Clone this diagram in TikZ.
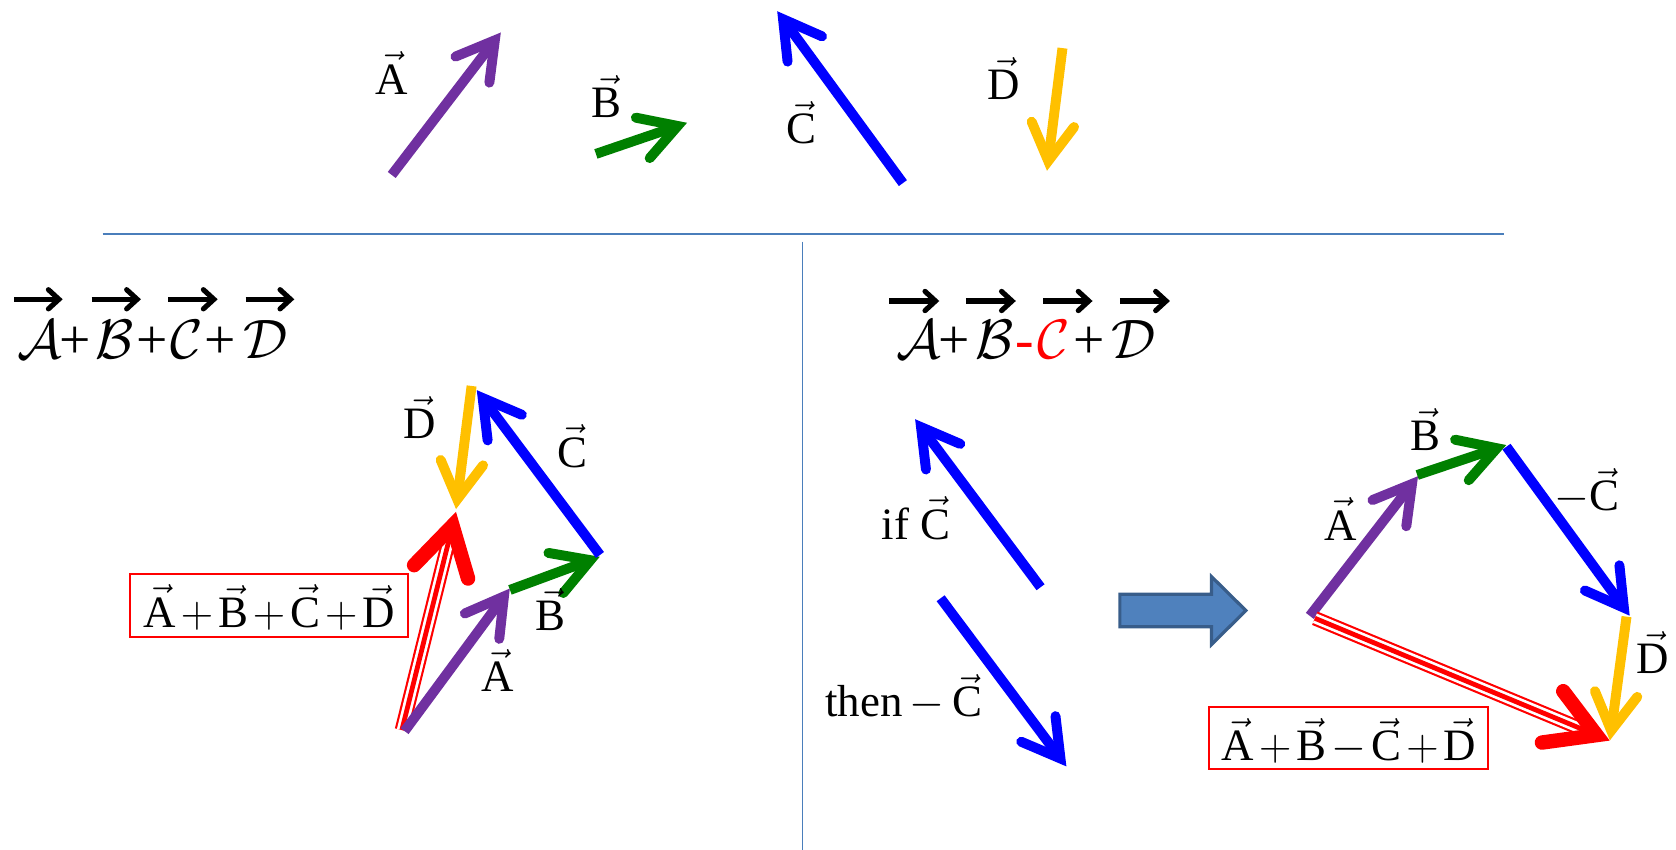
\documentclass[tikz,border=0pt]{standalone}
\usepackage{fix-cm}
\usepackage{amsmath}
\usepackage{fontspec}
\setmainfont{Liberation Serif}
\usetikzlibrary{calc}
\definecolor{vpurple}{HTML}{7030A0}
\definecolor{vgreen}{HTML}{008000}
\definecolor{vblue}{HTML}{0000FF}
\definecolor{vgold}{HTML}{FFC000}
\definecolor{vred}{HTML}{FF0000}
\definecolor{sepline}{HTML}{4A7EBB}
\definecolor{blockfill}{HTML}{4F81BD}
\definecolor{blockedge}{HTML}{385D8A}
\tikzset{
  lbl/.style={font=\fontsize{42}{50}\selectfont, inner sep=0pt, anchor=base},
  ttl/.style={font=\fontsize{52}{60}\selectfont, inner sep=0pt, anchor=base},
  sumbox/.style={draw=vred, line width=1.8pt, fill=none},
  sep/.style={draw=sepline, line width=1.5pt}
}
\newcommand\vl[1]{$\vec{\text{#1}}$}
\newcommand\opl{\mkern2mu{+}\mkern2mu}
\newcommand\omi{\mkern2mu{-}\mkern2mu}
% #1 colour, #2 tail, #3 apex, #4 width, #5 head length, #6 half width, #7 miter offset
\newcommand\drawvec[7]{%
  \coordinate (vv) at ($(#3)!#7pt!(#2)$);
  \coordinate (hb) at ($(#3)!#5pt!(#2)$);
  \draw[draw=#1, line width=#4pt, line cap=butt] (#2) -- (vv);
  \draw[draw=#1, line width=#4pt, line cap=round, line join=miter, miter limit=20]
    ($(hb)!#6pt!90:(#3)$) -- (vv) -- ($(hb)!#6pt!-90:(#3)$);
}
\newcommand\sv[3]{\drawvec{#1}{#2}{#3}{9.3}{44}{20}{9.5}}
\newcommand\tv[2]{\drawvec{black}{#1}{#2}{4.8}{14}{9}{4.2}}
\newcommand\drawres[2]{%
  \coordinate (vv) at ($(#2)!13.5pt!(#1)$);
  \coordinate (hb) at ($(#2)!58pt!(#1)$);
  \draw[vred, line width=13.5pt] (#1) -- (vv);
  \draw[white, line width=9.5pt] (#1) -- (vv);
  \draw[vred, line width=4.5pt] (#1) -- (vv);
  \draw[vred, line width=13.5pt, line cap=round, line join=miter, miter limit=20]
    ($(hb)!26pt!90:(#2)$) -- (vv) -- ($(hb)!26pt!-90:(#2)$);
}
\begin{document}
\begin{tikzpicture}[x=1pt, y=-1pt]
\useasboundingbox (0,0) rectangle (1568,795);
% separators
\coordinate (hl1) at (96,219); \coordinate (hl2) at (1407,219);
\coordinate (vl1) at (750.7,226); \coordinate (vl2) at (750.7,795);
\draw[sep] (hl1) -- (hl2);
\draw[sep] (vl1) -- (vl2);

% ---------- top row ----------
\coordinate (tA) at (366.5,163.7); \coordinate (hA) at (468.7,30.2);
\coordinate (tB) at (557.5,144);   \coordinate (hB) at (643,114.8);
\coordinate (tC) at (844.7,171.3); \coordinate (hC) at (727,10.3);
\coordinate (tD) at (994,45);      \coordinate (hD) at (979.5,160);
\sv{vpurple}{tA}{hA}
\sv{vgreen}{tB}{hB}
\sv{vblue}{tC}{hC}
\sv{vgold}{tD}{hD}
\node[lbl] (labA) at (366,88) {\vl{A}};
\node[lbl] (labB) at (567.6,110) {\vl{B}};
\node[lbl] (labC) at (750,134.7) {\vl{C}};
\node[lbl] (labD) at (938.8,92.9) {\vl{D}};

% ---------- left title ----------
\foreach \n/\a/\b in {1/13.1/59.3, 2/85.8/132.5, 3/157.5/204.3, 4/229.8/276}{
  \coordinate (lta\n) at (\a,280); \coordinate (ltb\n) at (\b,280);
  \tv{lta\n}{ltb\n}
}
\node[ttl] (lt1) at (37.4,335.2) {$\mathcal{A}$};
\node[ttl] (lp1) at (70,335.2) {+};
\node[ttl] (lt2) at (107.6,335.2) {$\mathcal{B}$};
\node[ttl] (lp2) at (141.9,335.2) {+};
\node[ttl] (lt3) at (174.6,335.2) {$\mathcal{C}$};
\node[ttl] (lp3) at (206.3,335.2) {+};
\node[ttl] (lt4) at (248.7,335.2) {$\mathcal{D}$};

% ---------- left diagram ----------
\coordinate (lO) at (378.5,684);
\coordinate (lRt) at (376,683);  \coordinate (lRh) at (426.6,478.7);
\coordinate (lAh) at (477.1,550.4);
\coordinate (lBt) at (477.1,551.9); \coordinate (lBh) at (561.3,520.8);
\coordinate (lCt) at (561.3,519.2); \coordinate (lCh) at (445.9,364.8);
\coordinate (lDt) at (441.2,361.1); \coordinate (lDh) at (426.6,476.5);
\drawres{lRt}{lRh}
\sv{vpurple}{lO}{lAh}
\sv{vgreen}{lBt}{lBh}
\sv{vblue}{lCt}{lCh}
\sv{vgold}{lDt}{lDh}
\node[lbl] (llD) at (393,410) {\vl{D}};
\node[lbl] (llC) at (535.4,437) {\vl{C}};
\node[lbl] (llB) at (515.3,590) {\vl{B}};
\node[lbl] (llA) at (465.7,647) {\vl{A}};
\draw[sumbox] (121.6,537.3) rectangle (382,595.6);
\node[lbl] (lsum) at (251.8,586.8) {$\vec{\text{A}}\opl\vec{\text{B}}\opl\vec{\text{C}}\opl\vec{\text{D}}$};

% ---------- right title ----------
\foreach \n/\a/\b in {1/832/879.4, 2/903.7/951, 3/976/1022.8, 4/1047.8/1095.2}{
  \coordinate (rta\n) at (\a,281.6); \coordinate (rtb\n) at (\b,281.6);
  \tv{rta\n}{rtb\n}
}
\node[ttl] (rt1) at (859.9,335.2) {$\mathcal{A}$};
\node[ttl] (rp1) at (892.6,335.2) {+};
\node[ttl] (rt2) at (930.8,335.2) {$\mathcal{B}$};
\node[ttl, text=vred] (rm2) at (958.9,335.2) {\textit{-}};
\node[ttl, text=vred] (rt3) at (986.2,335.2) {$\mathcal{C}$};
\node[ttl] (rp3) at (1018.9,335.2) {+};
\node[ttl] (rt4) at (1060.2,335.2) {$\mathcal{D}$};

% ---------- middle ----------
\coordinate (mCt) at (973.5,549.4); \coordinate (mCh) at (856,392);
\coordinate (mNt) at (880,559.7);   \coordinate (mNh) at (997.8,717.2);
\sv{vblue}{mCt}{mCh}
\sv{vblue}{mNt}{mNh}
\node[lbl, anchor=base west] (mif) at (824.8,504.5) {if \vl{C}};
\node[lbl, anchor=base west] (mthen) at (771.8,670.4) {then\,$-\,\vec{\text{C}}$};
\draw[fill=blockfill, draw=blockedge, line width=3pt, line join=miter]
  (1047.7,555.9) -- (1133.5,555.9) -- (1133.5,539.5) -- (1165.6,571.2)
  -- (1133.5,602.9) -- (1133.5,586.3) -- (1047.7,586.3) -- cycle;

% ---------- right diagram ----------
\coordinate (rAt) at (1225.4,576.2); \coordinate (rAh) at (1326.8,445.3);
\coordinate (rBt) at (1325.9,444.4); \coordinate (rBh) at (1409.4,416.3);
\coordinate (rCt) at (1409.4,417.9); \coordinate (rCh) at (1524.8,576.2);
\coordinate (rDt) at (1521.7,576.9); \coordinate (rDh) at (1506.1,692.9);
\coordinate (rRt) at (1230.1,578.4);
\sv{vpurple}{rAt}{rAh}
\drawres{rRt}{rDh}
\sv{vgreen}{rBt}{rBh}
\sv{vblue}{rCt}{rCh}
\sv{vgold}{rDt}{rDh}
\node[lbl] (rlB) at (1333.5,421.6) {\vl{B}};
\node[lbl] (rlC) at (1484.8,477.7) {$-\vec{\text{C}}$};
\node[lbl] (rlA) at (1253.9,505.2) {\vl{A}};
\node[lbl] (rlD) at (1546.6,630.5) {\vl{D}};
\draw[sumbox] (1131.3,661.7) rectangle (1392.3,719.7);
\node[lbl] (rsum) at (1262,711.6) {$\vec{\text{A}}\opl\vec{\text{B}}\omi\vec{\text{C}}\opl\vec{\text{D}}$};
\end{tikzpicture}
\end{document}
